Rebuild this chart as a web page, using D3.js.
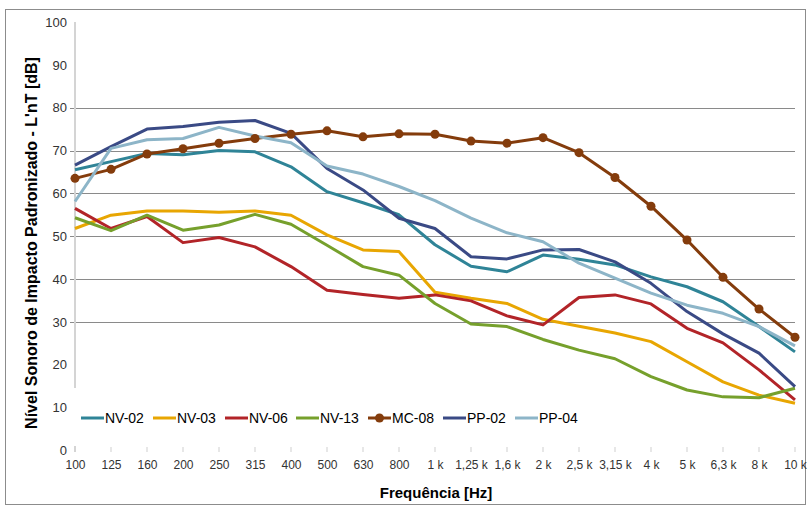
<!DOCTYPE html>
<html><head><meta charset="utf-8">
<script src="https://cdn.jsdelivr.net/npm/d3@7"></script>
<style>body{margin:0;background:#fff}svg{display:block;font-family:"Liberation Sans",Arial,sans-serif}</style>
</head><body><svg id="c" width="809" height="509"></svg>
<script>
const categories = ["100","125","160","200","250","315","400","500","630","800","1 k","1,25 k","1,6 k","2 k","2,5 k","3,15 k","4 k","5 k","6,3 k","8 k","10 k"];
const yTicks = [0,10,20,30,40,50,60,70,80,90,100];
const gridValues = [30,40,50,60,70,80];
const seriesNames = ["NV-02","NV-03","NV-06","NV-13","MC-08","PP-02","PP-04"];
const nv02 = [65.5,67.4,69.3,69.0,70.0,69.7,66.2,60.4,57.8,55.0,48.0,43.0,41.7,45.6,44.6,43.3,40.5,38.2,34.7,28.9,23.0];
const nv03 = [51.8,54.9,55.9,55.9,55.6,55.9,54.9,50.3,46.8,46.4,36.9,35.5,34.3,30.6,29.0,27.4,25.4,20.7,16.0,12.9,11.0];
const nv06 = [56.5,51.8,54.6,48.5,49.7,47.5,42.9,37.4,36.4,35.5,36.3,34.9,31.4,29.3,35.7,36.3,34.2,28.5,25.1,18.8,11.8];
const nv13 = [54.3,51.3,54.9,51.4,52.6,55.1,52.8,47.9,42.9,40.9,34.3,29.5,28.9,25.9,23.4,21.4,17.2,14.1,12.5,12.3,14.5];
const mc08 = [63.5,65.6,69.2,70.4,71.7,72.8,73.8,74.6,73.2,73.9,73.8,72.2,71.7,73.0,69.5,63.7,57.0,49.1,40.4,33.0,26.4];
const pp02 = [66.6,70.9,75.0,75.6,76.6,77.0,74.0,65.8,60.8,54.2,51.8,45.2,44.7,46.8,46.9,44.0,39.0,32.4,27.2,22.7,14.9];
const pp04 = [58.1,70.5,72.5,72.8,75.4,73.4,71.8,66.4,64.5,61.6,58.3,54.2,50.8,48.7,43.7,40.2,36.7,33.9,32.0,28.9,24.4];
const colors = ["#2F8497","#E8A602","#B22428","#76A02C","#843C0C","#3A4A85","#8DB5C8"];
const seriesData = [nv02,nv03,nv06,nv13,mc08,pp02,pp04];

const svg = d3.select("#c");
svg.append("rect").attr("x",5.5).attr("y",9.5).attr("width",800).attr("height",495)
  .attr("fill","#fff").attr("stroke","#8c8c8c").attr("stroke-width",1);

const x = d3.scalePoint().domain(categories).range([75,795]);
const y = d3.scaleLinear().domain([0,100]).range([450.4,22]);

// gridlines
svg.append("g").selectAll("line").data(gridValues).join("line")
  .attr("x1",70).attr("x2",795).attr("y1",d=>Math.round(y(d))+0.5).attr("y2",d=>Math.round(y(d))+0.5)
  .attr("stroke","#8a8a8a").attr("stroke-width",1);

// y axis tick labels
const yAxis = d3.axisLeft(y).tickValues(yTicks).tickSize(0).tickPadding(8);
const gy = svg.append("g").attr("transform","translate(75,0)").call(yAxis);
gy.select(".domain").remove();
gy.selectAll("text").attr("font-size",13).attr("fill","#333").attr("font-family","Liberation Sans, Arial, sans-serif");
// y axis line (split by legend)
svg.append("line").attr("x1",75).attr("x2",75).attr("y1",22).attr("y2",388).attr("stroke","#d4d4d4").attr("stroke-width",2);
svg.append("line").attr("x1",75).attr("x2",75).attr("y1",446).attr("y2",452).attr("stroke","#d4d4d4").attr("stroke-width",2);

// x axis
const xAxis = d3.axisBottom(x).tickSize(0).tickPadding(0);
const gx = svg.append("g").attr("transform","translate(0,460)").call(xAxis);
gx.select(".domain").remove();
gx.selectAll("text").attr("font-size",12).attr("fill","#333").attr("dy","0.71em").attr("font-family","Liberation Sans, Arial, sans-serif");
svg.append("g").selectAll("line").data(categories.slice(1)).join("line")
  .attr("x1",d=>x(d)).attr("x2",d=>x(d)).attr("y1",447).attr("y2",452)
  .attr("stroke","#cfcfcf").attr("stroke-width",1);

// lines
const line = d3.line().x((d,i)=>x(categories[i])).y(d=>y(d));
seriesData.forEach((s,k)=>{
  svg.append("path").datum(s).attr("d",line).attr("fill","none")
    .attr("stroke",colors[k]).attr("stroke-width",3).attr("stroke-linejoin","round");
});
// markers for MC-08
svg.append("g").selectAll("circle").data(mc08).join("circle")
  .attr("cx",(d,i)=>x(categories[i])).attr("cy",d=>y(d)).attr("r",4.5).attr("fill",colors[4]);

// legend
const legX = [81,153,225,296,368,443,515];
const lg = svg.append("g");
seriesNames.forEach((n,k)=>{
  const g = lg.append("g").attr("transform",`translate(${legX[k]},418)`);
  g.append("line").attr("x1",0).attr("x2",23).attr("y1",0).attr("y2",0).attr("stroke",colors[k]).attr("stroke-width",3);
  if(k===4) g.append("circle").attr("cx",11.5).attr("cy",0).attr("r",4.5).attr("fill",colors[k]);
  g.append("text").attr("x",24).attr("y",0).attr("dy","0.36em").attr("font-size",14).attr("fill","#000").text(n);
});

// axis titles
svg.append("text").attr("x",436).attr("y",498).attr("text-anchor","middle")
  .attr("font-size",15).attr("font-weight","bold").text("Frequência [Hz]");
svg.append("text").attr("transform","translate(37,243) rotate(-90)").attr("text-anchor","middle")
  .attr("font-size",16).attr("font-weight","bold").text("Nível Sonoro de Impacto Padronizado - L'nT [dB]");
</script></body></html>
